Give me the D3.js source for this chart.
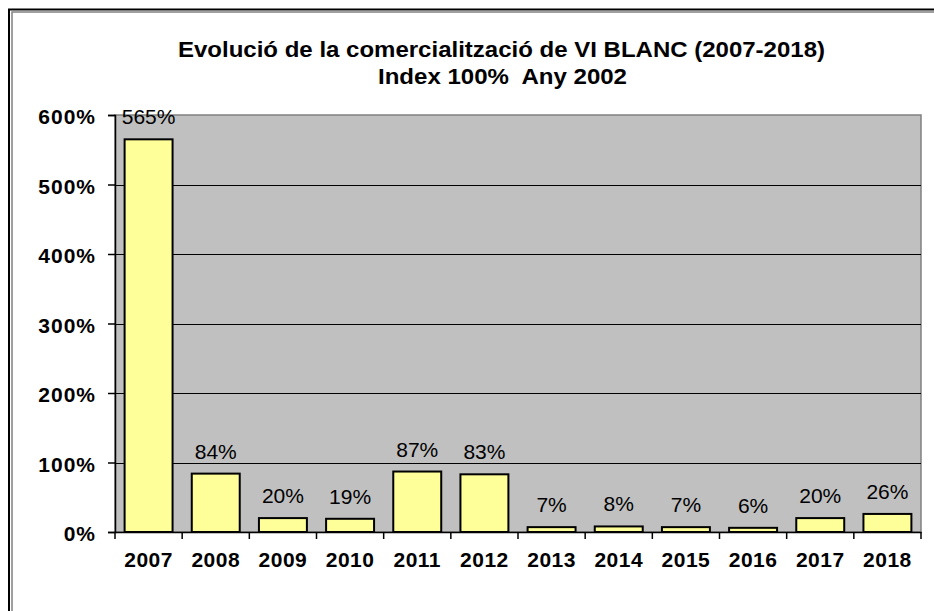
<!DOCTYPE html>
<html>
<head>
<meta charset="utf-8">
<script src="https://cdn.jsdelivr.net/npm/d3@7"></script>
<style>
  html, body { margin: 0; padding: 0; background: #fff; }
  svg { display: block; }
  text { font-family: Arial, "Liberation Sans", sans-serif; }
</style>
</head>
<body>
<svg id="chart" width="934" height="611"></svg>
<script>
const categories = ["2007","2008","2009","2010","2011","2012","2013","2014","2015","2016","2017","2018"];
const values = [565, 84, 20, 19, 87, 83, 7, 8, 7, 6, 20, 26];
const yTicks = [0, 100, 200, 300, 400, 500, 600];
const titleLines = ["Evolució de la comercialització de VI BLANC (2007-2018)", "Index 100%  Any 2002"];

const svg = d3.select("#chart");
const W = 934, H = 611;
const plot = { left: 115, right: 921, top: 115, bottom: 532 };

// outer frame (double line)
svg.append("rect").attr("x", 9).attr("y", 9.5).attr("width", W + 20).attr("height", H + 20)
  .attr("fill", "none").attr("stroke", "#000").attr("stroke-width", 2);
svg.append("rect").attr("x", 12).attr("y", 12).attr("width", W + 20).attr("height", H + 20)
  .attr("fill", "none").attr("stroke", "#808080").attr("stroke-width", 1.5);

// title
const tl = svg.append("g");
tl.append("text").attr("x", 501.5).attr("y", 57).attr("text-anchor", "middle")
  .attr("font-size", 22).attr("font-weight", "bold")
  .attr("textLength", 647).attr("lengthAdjust", "spacingAndGlyphs").text(titleLines[0]);
tl.append("text").attr("x", 502.5).attr("y", 83.5).attr("text-anchor", "middle")
  .attr("font-size", 22).attr("font-weight", "bold")
  .attr("textLength", 249).attr("lengthAdjust", "spacingAndGlyphs")
  .attr("xml:space", "preserve").style("white-space", "pre").text(titleLines[1]);

const x = d3.scaleBand().domain(categories).range([plot.left, plot.right]).paddingInner(0.286).paddingOuter(0.143);
const y = d3.scaleLinear().domain([0, 600]).range([plot.bottom, plot.top]);

// plot background
svg.append("rect").attr("x", plot.left).attr("y", plot.top)
  .attr("width", plot.right - plot.left).attr("height", plot.bottom - plot.top)
  .attr("fill", "#C0C0C0").attr("stroke", "#808080").attr("stroke-width", 1.5);

// gridlines
svg.append("g").selectAll("line").data(yTicks.filter(d => d > 0 && d < 600)).join("line")
  .attr("x1", plot.left).attr("x2", plot.right)
  .attr("y1", d => Math.round(y(d)) + 0.5).attr("y2", d => Math.round(y(d)) + 0.5)
  .attr("stroke", "#000").attr("stroke-width", 1);

// bars
svg.append("g").selectAll("rect").data(values).join("rect")
  .attr("x", (d, i) => x(categories[i]))
  .attr("y", d => y(d))
  .attr("width", x.bandwidth())
  .attr("height", d => y(0) - y(d))
  .attr("fill", "#FFFF99").attr("stroke", "#000").attr("stroke-width", 2);

// bar labels
svg.append("g").selectAll("text").data(values).join("text")
  .attr("x", (d, i) => x(categories[i]) + x.bandwidth() / 2)
  .attr("y", d => y(d) - 15)
  .attr("text-anchor", "middle").attr("font-size", 21).attr("fill", "#000")
  .text(d => d + "%");

// y axis
const yAxis = d3.axisLeft(y).tickValues(yTicks).tickSize(7).tickPadding(12).tickFormat(d => d + "%");
const gy = svg.append("g").attr("transform", `translate(${plot.left},0)`).call(yAxis);
gy.select(".domain").attr("stroke", "#000").attr("stroke-width", 1.5);
gy.selectAll(".tick line").attr("stroke", "#000").attr("stroke-width", 1.5);
gy.selectAll(".tick text").attr("font-size", 21).attr("font-weight", "bold")
  .attr("font-family", "Arial, 'Liberation Sans', sans-serif").attr("fill", "#000")
  .attr("dy", "0.42em").attr("letter-spacing", 1);

// x axis
const xAxis = d3.axisBottom(x).tickSize(0).tickPadding(20);
const gx = svg.append("g").attr("transform", `translate(0,${plot.bottom})`).call(xAxis);
gx.select(".domain").attr("stroke", "#000").attr("stroke-width", 1.5);
gx.selectAll(".tick text").attr("font-size", 21).attr("font-weight", "bold")
  .attr("font-family", "Arial, 'Liberation Sans', sans-serif").attr("fill", "#000")
  .attr("letter-spacing", 0.5);

// x boundary ticks
const step = x.step();
const bounds = categories.map(c => x(c) - x.paddingOuter() * step).concat([plot.right]);
svg.append("g").selectAll("line").data(bounds).join("line")
  .attr("x1", d => d).attr("x2", d => d)
  .attr("y1", plot.bottom).attr("y2", plot.bottom + 7)
  .attr("stroke", "#000").attr("stroke-width", 1.5);
</script>
</body>
</html>
